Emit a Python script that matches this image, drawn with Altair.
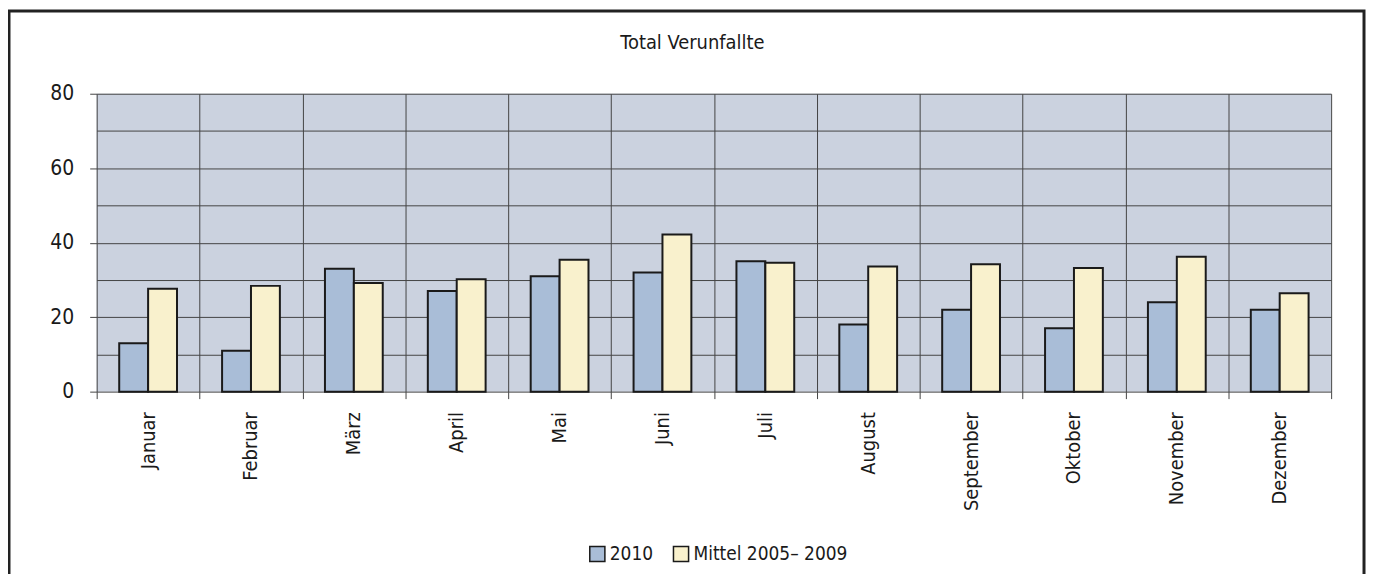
import altair as alt
import pandas as pd

TITLE = "Total Verunfallte"
MONTHS = ["Januar", "Februar", "März", "April", "Mai", "Juni", "Juli",
          "August", "September", "Oktober", "November", "Dezember"]
SERIES = ["2010", "Mittel 2005– 2009"]
V_2010 = [13, 11, 33, 27, 31, 32, 35, 18, 22, 17, 24, 22]
V_MITTEL = [27.6, 28.4, 29.2, 30.2, 35.4, 42.2, 34.6, 33.6, 34.2, 33.2, 36.2, 26.4]
Y_TICKS = [0, 10, 20, 30, 40, 50, 60, 70, 80]
COLORS = ["#A9BDD7", "#F9F1CD"]

FONT = "Liberation Sans Narrow, DejaVu Sans Condensed, sans-serif"
W, H = 1239, 299

rows = []
for m, a, b in zip(MONTHS, V_2010, V_MITTEL):
    rows.append({"Monat": m, "Serie": SERIES[0], "Wert": a})
    rows.append({"Monat": m, "Serie": SERIES[1], "Wert": b})
df = pd.DataFrame(rows)

bars = alt.Chart(df).mark_bar(stroke="#1a1a1a", strokeWidth=2).encode(
    x=alt.X("Monat:N", sort=MONTHS, title=None,
            scale=alt.Scale(paddingInner=0, paddingOuter=0),
            axis=alt.Axis(tickBand="extent", grid=True, gridColor="#444444",
                          gridWidth=1, domain=False, tickSize=7,
                          tickColor="#444444", labelAngle=-90, labelAlign="right",
                          labelBaseline="middle", labelPadding=13,
                          labelFont=FONT, labelFontSize=20, labelColor="#1a1a1a")),
    xOffset=alt.XOffset("Serie:N", sort=SERIES,
                        scale=alt.Scale(paddingInner=0, paddingOuter=0.78)),
    y=alt.Y("Wert:Q", title=None,
            scale=alt.Scale(domain=[0, 80], nice=False),
            axis=alt.Axis(values=Y_TICKS, grid=True, gridColor="#444444",
                          gridWidth=1, domain=False, tickSize=7,
                          tickColor="#444444",
                          tickOpacity=alt.expr("datum.value % 20 === 0 ? 1 : 0"),
                          labelExpr="datum.value % 20 === 0 ? datum.label : ''",
                          labelPadding=16, labelFont=FONT, labelFontSize=21,
                          labelColor="#1a1a1a")),
    color=alt.Color("Serie:N", sort=SERIES,
                    scale=alt.Scale(domain=SERIES, range=COLORS),
                    legend=alt.Legend(title=None, orient="none", direction="horizontal",
                                      legendX=493, legendY=452,
                                      symbolType="square", symbolSize=230,
                                      symbolStrokeColor="#1a1a1a", symbolStrokeWidth=1.5,
                                      symbolOpacity=1, labelLimit=0,
                                      labelFont=FONT, labelFontSize=19,
                                      labelColor="#1a1a1a", labelOffset=3,
                                      columnPadding=16)),
)

title = alt.Chart(pd.DataFrame({"t": [TITLE]})).mark_text(
    font=FONT, fontSize=20, color="#1a1a1a", baseline="alphabetic", align="center"
).encode(text="t:N", x=alt.value(598), y=alt.value(-45))

frame = alt.Chart(pd.DataFrame({"t": [TITLE]})).mark_rect(
    fill=None, fillOpacity=0, stroke="#222222", strokeWidth=3
).encode(x=alt.value(-88), x2=alt.value(W + 33), y=alt.value(-83), y2=alt.value(H + 230))

chart = alt.layer(frame, bars, title).properties(
    width=W, height=H,
    padding={"left": 89, "top": 85, "right": 36, "bottom": 182},
    autosize=alt.AutoSizeParams(type="none"),
).configure_view(fill="#CBD2DF", stroke=None)

chart.save("out.html", embed_options={"renderer": "svg", "actions": False})
